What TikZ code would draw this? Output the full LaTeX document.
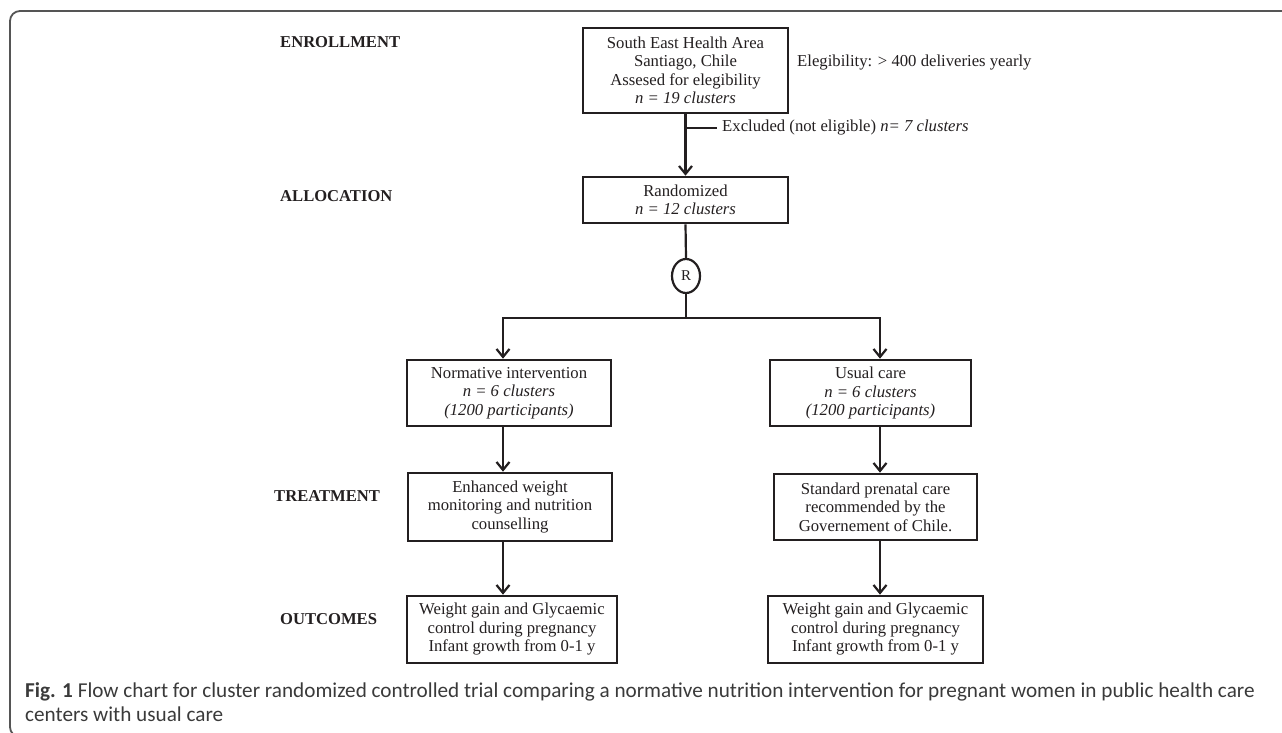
\documentclass[tikz,border=0pt]{standalone}
\usepackage{fontspec}
\setmainfont{Liberation Serif}
\newfontfamily\capfont{Carlito}
\usetikzlibrary{arrows.meta,shapes.geometric}
\definecolor{ink}{HTML}{231F20}
\definecolor{capgray}{HTML}{3A3A3A}
\definecolor{framegray}{HTML}{555555}
\tikzset{
  box/.style={draw=ink, line width=2.6pt, text=ink, align=center, inner sep=0pt,
    font=\fontsize{16.7}{18.5}\selectfont},
  lbl/.style={text=ink, font=\fontsize{16.6}{18}\selectfont\bfseries, inner sep=0pt, anchor=west},
  side/.style={text=ink, font=\fontsize{16.7}{18.5}\selectfont, inner sep=0pt, anchor=west},
  conn/.style={draw=ink, line width=2.2pt},
  arr/.style={conn, -{Straight Barb[length=8pt,width=13pt,line width=2.2pt]}},
  capt/.style={text=capgray, font=\capfont\fontsize{21.2}{24}\selectfont, inner sep=0pt, anchor=base west}
}
\begin{document}
\begin{tikzpicture}[x=1pt,y=-1pt]
\useasboundingbox (0,0) rectangle (1282,733);
% frame
\draw[framegray, line width=1.8pt, rounded corners=10pt] (1300,11) -- (10,11) -- (10,737) -- (1300,737);

% stage labels
\node[lbl] (enr) at (280,42) {ENROLLMENT};
\node[lbl] (alloc) at (280,196) {ALLOCATION};
\node[lbl] (treat) at (274,496) {TREATMENT};
\node[lbl] (outc) at (280,619) {OUTCOMES};

% boxes
\node[box, minimum width=205pt, minimum height=85pt] (b1) at (685.5,70.5)
  {South East Health Area\\Santiago, Chile\\Assesed for elegibility\\\textit{n = 19 clusters}};
\node[box, minimum width=205pt, minimum height=46pt] (rand) at (685.5,200)
  {Randomized\\\textit{n = 12 clusters}};
\node[draw=ink, line width=2.2pt, ellipse, minimum width=28pt, minimum height=34pt, inner sep=0pt,
  text=ink, font=\fontsize{15}{16}\selectfont] (R) at (686,276) {R};

\node[box, minimum width=204pt, minimum height=66pt] (norm) at (509,393)
  {Normative intervention\\\textit{n = 6 clusters}\\\textit{(1200 participants)}};
\node[box, minimum width=201pt, minimum height=66pt] (usual) at (870.5,393)
  {Usual care\\\textit{n = 6 clusters}\\\textit{(1200 participants)}};

\node[box, minimum width=204pt, minimum height=68pt] (treatL) at (510,507)
  {Enhanced weight\\monitoring and nutrition\\counselling};
\node[box, minimum width=203pt, minimum height=66pt] (treatR) at (875.5,507)
  {Standard prenatal care\\recommended by the\\Governement of Chile.};

\node[box, minimum width=210pt, minimum height=67pt] (outL) at (512,629.5)
  {Weight gain and Glycaemic\\control during pregnancy\\Infant growth from 0-1 y};
\node[box, minimum width=215pt, minimum height=67pt] (outR) at (875.5,629.5)
  {Weight gain and Glycaemic\\control during pregnancy\\Infant growth from 0-1 y};

% side texts
\node[side] (elig) at (797,63) {Elegibility: > 400 deliveries yearly};
\node[side] (excl) at (722,128) {Excluded (not eligible) \textit{n= 7 clusters}};

% connectors
\coordinate (sL) at (503,318);
\coordinate (sR) at (880,318);
\draw[arr] (b1.south) -- (rand.north);
\draw[conn] (b1.south |- excl.west) -- ([xshift=-5pt]excl.west);
\draw[conn] (rand.south) -- (R.north);
\draw[arr] (R.south) -- (R.south |- sL) -| (norm.north -| sL);
\draw[arr] (R.south |- sR) -| (usual.north -| sR);
\draw[arr] (norm.south -| sL) -- (treatL.north -| sL);
\draw[arr] (treatL.south -| sL) -- (outL.north -| sL);
\draw[arr] (usual.south -| sR) -- (treatR.north -| sR);
\draw[arr] (treatR.south -| sR) -- (outR.north -| sR);

% caption
\node[capt] (cap1) at (25,697) {\textbf{Fig. 1} Flow chart for cluster randomized controlled trial comparing a normative nutrition intervention for pregnant women in public health care};
\node[capt] (cap2) at (25,721) {centers with usual care};
\end{tikzpicture}
\end{document}
